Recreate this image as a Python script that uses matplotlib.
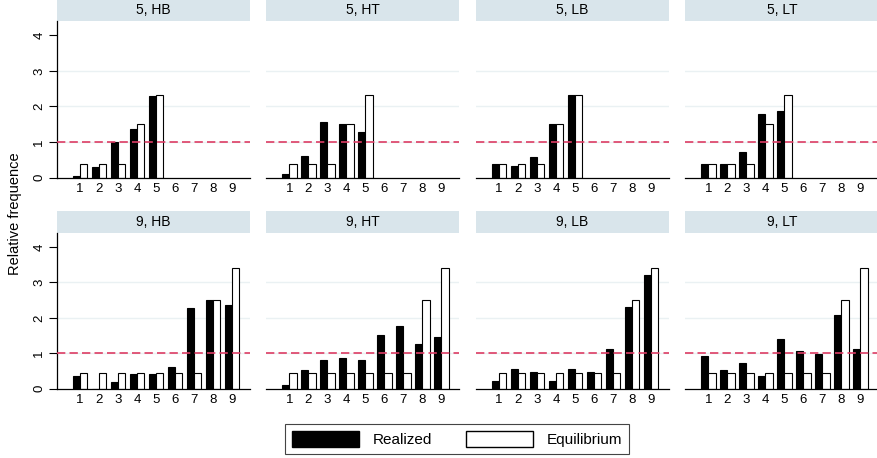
import numpy as np
import matplotlib.pyplot as plt
from matplotlib.patches import Patch

# Dados
categorias = [1, 2, 3, 4, 5, 6, 7, 8, 9]
paineis = ['5, HB', '5, HT', '5, LB', '5, LT', '9, HB', '9, HT', '9, LB', '9, LT']

eq5 = [0.39, 0.39, 0.39, 1.5, 2.33]
eq9 = [0.44, 0.44, 0.44, 0.44, 0.44, 0.44, 0.44, 2.51, 3.4]

real_5_HB = [0.05, 0.3, 1.0, 1.36, 2.3]
real_5_HT = [0.1, 0.62, 1.56, 1.52, 1.28]
real_5_LB = [0.37, 0.32, 0.57, 1.5, 2.31]
real_5_LT = [0.37, 0.37, 0.72, 1.78, 1.86]
real_9_HB = [0.36, 0.0, 0.17, 0.4, 0.4, 0.61, 2.27, 2.51, 2.36]
real_9_HT = [0.11, 0.51, 0.8, 0.86, 0.8, 1.52, 1.76, 1.26, 1.47]
real_9_LB = [0.22, 0.56, 0.47, 0.22, 0.56, 0.47, 1.11, 2.31, 3.21]
real_9_LT = [0.91, 0.51, 0.72, 0.36, 1.41, 1.07, 0.97, 2.07, 1.11]

realizados = [real_5_HB, real_5_HT, real_5_LB, real_5_LT,
              real_9_HB, real_9_HT, real_9_LB, real_9_LT]
equilibrios = [eq5, eq5, eq5, eq5, eq9, eq9, eq9, eq9]

plt.rcParams['font.family'] = ['Liberation Sans', 'DejaVu Sans']

W, H = 878, 458
fig = plt.figure(figsize=(W/100, H/100), dpi=100)

def rect(x, y, w, h):
    # converte pixels (origem em cima) para fracao da figura
    return [x/W, 1-(y+h)/H, w/W, h/H]

lefts = [57, 266.5, 476, 685.5]
largura = 193
linhas = [(0, 20.5, 21, 156.6), (211, 21.5, 233, 155.5)]
cor_faixa = '#d9e5eb'
cor_ref = '#dc3c64'
bw = 0.39

for i in range(8):
    lin = i // 4
    col = i % 4
    ys, hs, yp, hp = linhas[lin]
    x0 = lefts[col]

    # faixa do titulo
    fx = fig.add_axes(rect(x0, ys, largura, hs))
    fx.set_facecolor(cor_faixa)
    fx.set_xticks([])
    fx.set_yticks([])
    for s in fx.spines.values():
        s.set_visible(False)
    fx.text(0.5, 0.5, paineis[i], ha='center', va='center', fontsize=10)

    ax = fig.add_axes(rect(x0, yp, largura, hp))
    real = realizados[i]
    eq = equilibrios[i]
    xr = np.arange(1, len(real)+1)
    for g in [1, 2, 3]:
        ax.axhline(g, color='#eaf1f3', lw=1, zorder=0)
    ax.bar(xr - bw/2, real, width=bw, color='black', edgecolor='black', lw=0.8, zorder=2)
    ax.bar(xr + bw/2, eq, width=bw, color='white', edgecolor='black', lw=0.8, zorder=2)
    ax.axhline(1, color=cor_ref, lw=1.2, linestyle=(0, (5, 2.5)), zorder=3)

    ax.set_xlim(-0.21, 9.95)
    ax.set_ylim(0, 4.4)
    ax.set_xticks(categorias)
    ax.set_xticklabels([str(c) for c in categorias], fontsize=9.5)
    ax.tick_params(axis='x', length=0, pad=4)
    ax.spines['top'].set_visible(False)
    ax.spines['right'].set_visible(False)
    ax.spines['bottom'].set_linewidth(0.9)
    if col == 0:
        ax.set_yticks([0, 1, 2, 3, 4])
        ax.set_yticklabels(['0', '1', '2', '3', '4'], fontsize=9.5, rotation=90, va='center')
        ax.tick_params(axis='y', length=6, width=0.8, pad=2.5)
        ax.spines['left'].set_linewidth(0.9)
    else:
        ax.set_yticks([])
        ax.spines['left'].set_visible(False)

fig.text(15/W, 1-214/H, 'Relative frequence', rotation=90, ha='center', va='center', fontsize=10.5)

handles = [Patch(facecolor='black', edgecolor='black', label='Realized'),
           Patch(facecolor='white', edgecolor='black', label='Equilibrium')]
leg = fig.legend(handles=handles, ncol=2, loc='center', bbox_to_anchor=(457/W, 1-439/H),
                 fontsize=11, handlelength=4.4, handleheight=1.25, handletextpad=0.9,
                 columnspacing=2.2, borderpad=0.45, fancybox=False, framealpha=1)
leg.get_frame().set_edgecolor('#444444')
leg.get_frame().set_linewidth(0.8)

fig.savefig('out.png', dpi=100)
